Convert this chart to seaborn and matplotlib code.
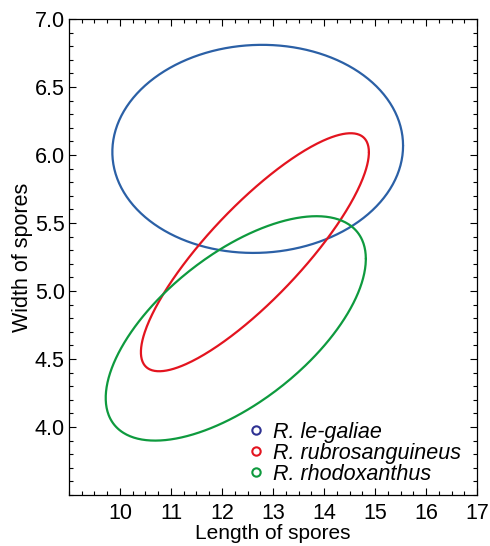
import numpy as np
import pandas as pd
import matplotlib
matplotlib.use("Agg")
import matplotlib.pyplot as plt
import seaborn as sns
from matplotlib.lines import Line2D
from matplotlib.ticker import MultipleLocator

# ellipse parameters (centre, half extents, correlation)
species = ["R. le-galiae", "R. rubrosanguineus", "R. rhodoxanthus"]
center_x = [12.70, 12.645, 12.27]
center_y = [6.045, 5.285, 4.725]
half_len = [2.85, 2.235, 2.55]
half_wid = [0.765, 0.875, 0.825]
corr = [0.03, 0.84, 0.62]
line_colors = ["#2b60a6", "#e3141f", "#0e9a3e"]
marker_colors = ["#2e3192", "#e3141f", "#0e9a3e"]

sns.set_style("ticks")
plt.rcParams["font.family"] = ["Liberation Sans", "DejaVu Sans"]
plt.rcParams["text.color"] = "black"
plt.rcParams["axes.labelcolor"] = "black"
plt.rcParams["xtick.color"] = "black"
plt.rcParams["ytick.color"] = "black"
plt.rcParams["axes.edgecolor"] = "black"

t = np.linspace(0, 2 * np.pi, 400)
rows = []
for name, cx, cy, a, b, r in zip(species, center_x, center_y, half_len, half_wid, corr):
    xs = cx + a * np.cos(t)
    ys = cy + b * (r * np.cos(t) + np.sqrt(1 - r ** 2) * np.sin(t))
    rows.append(pd.DataFrame({"species": name, "length": xs, "width": ys}))
df = pd.concat(rows, ignore_index=True)

fig = plt.figure(figsize=(4.9, 5.46), dpi=100)
ax = fig.add_axes([0.1408, 0.0934, 0.8327, 0.8718])

sns.lineplot(data=df, x="length", y="width", hue="species", sort=False,
             estimator=None, palette=dict(zip(species, line_colors)),
             linewidth=1.6, legend=False, ax=ax)

ax.set_xlim(9, 17)
ax.set_ylim(3.5, 7.0)
ax.set_xticks(range(10, 18))
ax.set_yticks([4.0, 4.5, 5.0, 5.5, 6.0, 6.5, 7.0])
ax.set_yticklabels(["4.0", "4.5", "5.0", "5.5", "6.0", "6.5", "7.0"])
ax.xaxis.set_minor_locator(MultipleLocator(0.25))
ax.yaxis.set_minor_locator(MultipleLocator(0.1))
ax.tick_params(which="both", direction="in", top=True, right=True, width=0.8)
ax.tick_params(which="major", length=5, labelsize=15.5)
ax.tick_params(axis="x", which="major", pad=6)
ax.tick_params(axis="y", which="major", pad=3)
ax.tick_params(which="minor", length=3)
for s in ax.spines.values():
    s.set_linewidth(0.9)

ax.set_xlabel("Length of spores", fontsize=15, labelpad=0)
ax.set_ylabel("Width of spores", fontsize=15.5, labelpad=1)

handles = [Line2D([], [], linestyle="none", marker="o", markersize=6,
                  markerfacecolor="none", markeredgecolor=c, markeredgewidth=1.5)
           for c in marker_colors]
leg = ax.legend(handles, species, loc="lower left", bbox_to_anchor=(0.405, -0.006),
                frameon=False, fontsize=15.5, handlelength=0.8, handletextpad=0.4,
                labelspacing=0.0, borderaxespad=0.2)
for txt in leg.get_texts():
    txt.set_fontstyle("italic")

fig.savefig("out.png", dpi=100)
